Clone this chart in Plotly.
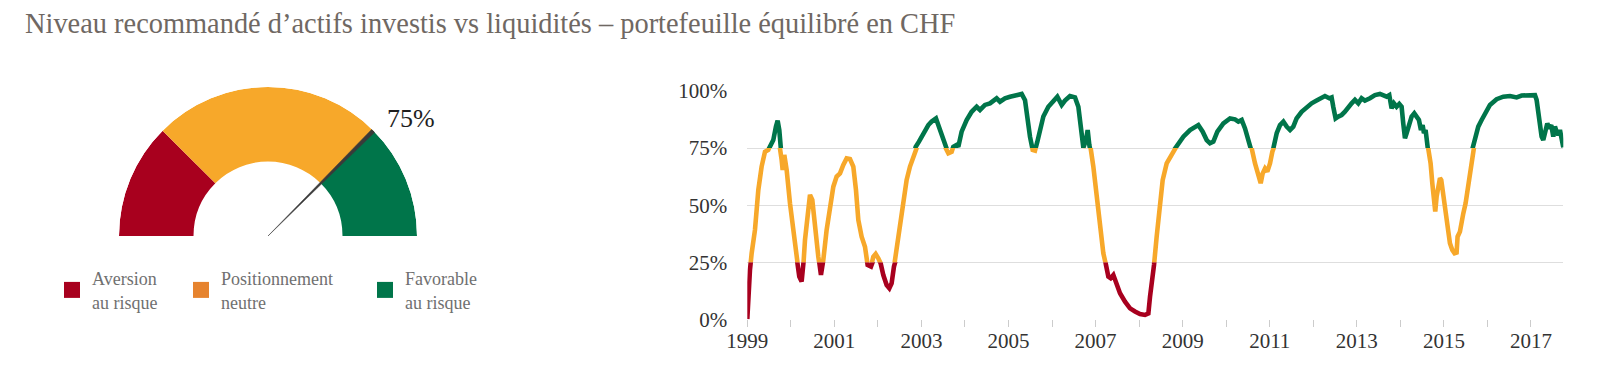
import plotly.graph_objects as go

# ---------------- data ----------------
title_text = "Niveau recommandé d’actifs investis vs liquidités – portefeuille équilibré en CHF"

gauge_bounds = [0, 25, 75, 100]          # % thresholds of the three zones
gauge_colors = ["#a8001e", "#f7a82a", "#00754a"]
gauge_value = 75                          # current recommended level (%)

legend_labels = ["Aversion<br>au risque", "Positionnement<br>neutre", "Favorable<br>au risque"]
legend_colors = ["#a8001e", "#e6832e", "#00754a"]

years = [
    1999.000, 1999.023, 1999.061, 1999.100, 1999.176, 1999.253, 1999.329, 1999.406, 1999.482, 1999.521,
    1999.597, 1999.658, 1999.697, 1999.735, 1999.750, 1999.789, 1999.812, 1999.850, 1999.904, 1999.980,
    2000.057, 2000.133, 2000.194, 2000.248, 2000.286, 2000.325, 2000.386, 2000.440, 2000.493, 2000.554,
    2000.631, 2000.692, 2000.746, 2000.822, 2000.899, 2000.976, 2001.052, 2001.129, 2001.205, 2001.282,
    2001.358, 2001.435, 2001.496, 2001.550, 2001.626, 2001.703, 2001.764, 2001.841, 2001.894, 2001.948,
    2002.009, 2002.063, 2002.124, 2002.201, 2002.262, 2002.315, 2002.369, 2002.430, 2002.507, 2002.583,
    2002.660, 2002.737, 2002.813, 2002.867, 2002.943, 2003.043, 2003.158, 2003.234, 2003.334, 2003.387,
    2003.464, 2003.541, 2003.617, 2003.694, 2003.732, 2003.809, 2003.847, 2003.923, 2004.038, 2004.153,
    2004.268, 2004.345, 2004.459, 2004.574, 2004.727, 2004.804, 2004.919, 2005.034, 2005.225,
    2005.302, 2005.379, 2005.432, 2005.493, 2005.555, 2005.608, 2005.662, 2005.723, 2005.800, 2005.915,
    2006.014, 2006.121, 2006.221, 2006.297, 2006.412, 2006.527, 2006.604, 2006.657, 2006.719, 2006.780,
    2006.818, 2006.856, 2006.887, 2006.948, 2007.009, 2007.063, 2007.117, 2007.178, 2007.239, 2007.293,
    2007.346, 2007.408, 2007.484, 2007.561, 2007.676, 2007.791, 2007.905, 2008.020, 2008.135, 2008.212,
    2008.250, 2008.311, 2008.342, 2008.403, 2008.464, 2008.541, 2008.633, 2008.748, 2008.824, 2008.901,
    2009.016, 2009.169, 2009.284, 2009.360, 2009.460, 2009.552, 2009.628, 2009.705, 2009.797, 2009.935,
    2010.088, 2010.202, 2010.279, 2010.356, 2010.432, 2010.509, 2010.585, 2010.662, 2010.738, 2010.792,
    2010.838, 2010.892, 2010.945, 2011.006, 2011.060, 2011.106, 2011.160, 2011.236, 2011.313, 2011.389,
    2011.466, 2011.541, 2011.617, 2011.732, 2011.847, 2011.962, 2012.077, 2012.191, 2012.268, 2012.368,
    2012.421, 2012.459, 2012.513, 2012.574, 2012.651, 2012.727, 2012.804, 2012.881, 2012.957, 2013.034,
    2013.110, 2013.187, 2013.302, 2013.417, 2013.531, 2013.608, 2013.685, 2013.746, 2013.799, 2013.853,
    2013.914, 2013.975, 2014.029, 2014.067, 2014.106, 2014.144, 2014.198, 2014.259, 2014.320, 2014.374,
    2014.427, 2014.473, 2014.512, 2014.542, 2014.580, 2014.603, 2014.626, 2014.649, 2014.695, 2014.734,
    2014.772, 2014.802, 2014.833, 2014.879, 2014.910, 2014.940, 2014.971, 2015.009, 2015.047, 2015.093,
    2015.139, 2015.193, 2015.246, 2015.292, 2015.315, 2015.369, 2015.407, 2015.446, 2015.499, 2015.545,
    2015.599, 2015.660, 2015.729, 2015.790, 2015.867, 2015.943, 2016.058, 2016.211, 2016.365, 2016.518,
    2016.671, 2016.786, 2016.939, 2017.092, 2017.130, 2017.168, 2017.207, 2017.245, 2017.283, 2017.322,
    2017.375, 2017.421, 2017.467, 2017.513, 2017.551, 2017.590, 2017.628, 2017.666, 2017.704, 2017.743,
]
values = [
    0.0, 11.4, 21.6, 28.9, 39.1, 56.6, 66.9, 73.4, 74.2, 76.0,
    78.5, 84.4, 87.0, 82.9, 74.9, 69.8, 65.4, 72.0, 65.4, 50.8,
    37.7, 27.4, 18.7, 16.5, 23.1, 34.7, 46.4, 54.5, 52.3, 39.1,
    27.4, 19.4, 26.0, 39.1, 49.3, 58.1, 62.5, 63.9, 67.6, 70.5,
    70.2, 66.9, 56.6, 43.5, 36.2, 31.8, 23.8, 23.1, 27.4, 28.6,
    26.7, 24.5, 19.4, 15.0, 13.6, 15.8, 23.1, 30.4, 43.5, 53.7,
    61.0, 66.9, 71.2, 75.5, 77.8, 81.5, 85.1, 86.6, 88.0, 85.1,
    80.0, 75.6, 72.7, 73.4, 75.6, 76.4, 75.6, 82.2, 87.3, 90.9,
    93.1, 91.7, 93.9, 94.6, 96.8, 95.3, 96.8, 97.5, 98.2,
    98.7, 96.0, 87.3, 80.0, 74.2, 73.9, 77.8, 83.6, 88.8, 93.1,
    95.3, 97.5, 93.9, 95.8, 97.8, 97.2, 93.1, 82.9, 75.2, 78.5,
    82.9, 76.4, 74.9, 66.9, 56.6, 46.4, 36.2, 28.9, 23.8, 18.7,
    18.0, 19.4, 15.8, 11.4, 7.7, 4.8, 3.4, 2.3, 1.9, 2.6,
    9.9, 17.2, 23.8, 36.2, 49.3, 61.0, 68.3, 72.7, 74.9, 77.1,
    80.0, 82.9, 84.4, 85.1, 82.2, 78.5, 77.1, 77.8, 82.2, 85.8,
    88.0, 87.6, 86.6, 87.3, 83.6, 79.3, 74.9, 68.3, 62.5, 59.6,
    63.9, 66.1, 64.7, 68.3, 73.4, 76.4, 81.5, 85.1, 86.6, 84.4,
    82.9, 84.4, 88.0, 90.9, 93.1, 94.6, 95.8, 96.8, 97.8, 96.8,
    97.2, 93.1, 88.0, 88.8, 89.5, 90.9, 93.1, 94.6, 96.1, 94.6,
    96.8, 95.8, 96.8, 98.2, 98.7, 98.2, 97.5, 98.2, 92.4, 94.6,
    93.1, 94.3, 93.1, 85.8, 79.3, 81.5, 84.4, 88.8, 90.2, 88.8,
    87.3, 82.9, 85.1, 81.5, 82.9, 79.3, 77.1, 74.9, 68.3, 59.6,
    49.3, 47.2, 53.7, 59.6, 61.8, 61.0, 56.6, 52.3, 46.4, 39.1,
    33.3, 30.4, 28.9, 29.2, 36.2, 38.4, 43.5, 46.4, 50.8, 58.1,
    66.9, 74.9, 80.0, 84.4, 87.3, 90.2, 93.9, 96.4, 97.5, 97.8,
    97.2, 98.0, 98.2, 98.2, 96.1, 90.2, 85.8, 80.0, 78.5, 82.2,
    85.8, 83.6, 85.1, 80.0, 84.4, 82.2, 80.7, 82.9, 79.3, 75.3,
]

y_tickvals = [0, 25, 50, 75, 100]
y_ticktext = ["0%", "25%", "50%", "75%", "100%"]
x_tickvals = list(range(1999, 2018, 2))
x_ticktext = [str(y) for y in x_tickvals]
x_minorvals = list(range(1999, 2018))

# ---------------- layout helpers ----------------
# the page puts the figure 8 px from the window's top-left corner
W, H = 1584, 352
OX, OY = 8, 8
def fx(sx):
    return (sx - OX) / W
def fy(sy):
    return 1 - (sy - OY) / H

SERIF = "Liberation Serif"
plot_x0, plot_x1 = 747.3, 1563.3
plot_y0, plot_y1 = 319.3, 91.0            # window rows of 0% and 100%
dom_lo, dom_hi = fy(plot_y0), fy(plot_y1)

fig = go.Figure()

# ---- gauge (polar subplot) ----
scale = 180.0 / 100.0
g_theta = [(a + b) / 2 * scale for a, b in zip(gauge_bounds[:-1], gauge_bounds[1:])]
g_width = [(b - a) * scale for a, b in zip(gauge_bounds[:-1], gauge_bounds[1:])]
fig.add_trace(go.Barpolar(
    r=[0.5] * len(g_theta), base=[0.5] * len(g_theta), theta=g_theta, width=g_width,
    marker=dict(color=gauge_colors, line=dict(width=0)),
    showlegend=False, hoverinfo="skip", subplot="polar",
))
nt = gauge_value * scale
fig.add_trace(go.Scatterpolar(
    r=[0, 1, 1, 0], theta=[nt, nt - 0.8, nt + 0.8, nt],
    mode="lines", fill="toself", fillcolor="#3a3a3a",
    line=dict(color="#3a3a3a", width=0.5),
    showlegend=False, hoverinfo="skip", subplot="polar",
))

# ---- line chart split into colour bands via stacked y-axes ----
band_axes = {}
for i, (lo, hi) in enumerate(zip(gauge_bounds[:-1], gauge_bounds[1:])):
    ax_name = "yaxis%d" % (i + 2)
    d0 = dom_lo + (dom_hi - dom_lo) * lo / 100.0
    d1 = dom_lo + (dom_hi - dom_lo) * hi / 100.0
    band_axes[ax_name] = dict(domain=[d0, d1], range=[lo, hi], visible=False,
                              anchor="x", fixedrange=True)
    fig.add_trace(go.Scatter(
        x=years, y=values, mode="lines",
        line=dict(color=gauge_colors[i], width=4.6),
        xaxis="x", yaxis="y%d" % (i + 2),
        showlegend=False, hoverinfo="skip",
    ))

# ---- legend entries ----
legend_keys = ["legend", "legend2", "legend3"]
for lab, col, key in zip(legend_labels, legend_colors, legend_keys):
    fig.add_trace(go.Scatter(
        x=[None], y=[None], mode="markers", name=lab,
        marker=dict(symbol="square", size=16, color=col),
        legend=key, showlegend=True, hoverinfo="skip",
    ))

legend_common = dict(
    orientation="v", xanchor="left", yanchor="middle",
    bgcolor="rgba(0,0,0,0)", borderwidth=0,
    font=dict(family=SERIF, size=18, color="#707070"),
    itemclick=False, itemdoubleclick=False,
)
legend_x = [52.0, 181.0, 365.0]
legends = {}
for key, lx in zip(legend_keys, legend_x):
    legends[key] = dict(legend_common, x=fx(lx), y=fy(290))

fig.update_layout(
    width=W, height=H,
    margin=dict(l=0, r=0, t=0, b=0, autoexpand=False),
    paper_bgcolor="white", plot_bgcolor="rgba(0,0,0,0)",
    showlegend=True,
    polar=dict(
        domain=dict(x=[fx(119), fx(417)], y=[fy(236), fy(87)]),
        sector=[0, 180], hole=0, bargap=0, bgcolor="rgba(0,0,0,0)",
        radialaxis=dict(visible=False, range=[0, 1]),
        angularaxis=dict(visible=False, rotation=180, direction="clockwise"),
    ),
    xaxis=dict(
        domain=[fx(plot_x0), fx(plot_x1)], range=[years[0], years[-1]], anchor="y",
        tickmode="array", tickvals=x_tickvals, ticktext=x_ticktext,
        ticks="outside", ticklen=7, tickwidth=1, tickcolor="#cccccc",
        ticklabelstandoff=-5,
        minor=dict(tickmode="array", tickvals=x_minorvals, ticks="outside",
                   ticklen=7, tickwidth=1, tickcolor="#cccccc", showgrid=False),
        showgrid=False, zeroline=False, showline=False, fixedrange=True,
        tickfont=dict(family=SERIF, size=21, color="#333333"),
    ),
    yaxis=dict(
        domain=[dom_lo, dom_hi], range=[0, 100], anchor="x",
        tickmode="array", tickvals=y_tickvals, ticktext=y_ticktext,
        showgrid=True, gridcolor="#dedede", gridwidth=1.3,
        zeroline=False, showline=False, ticks="", ticklabelstandoff=19,
        fixedrange=True,
        tickfont=dict(family=SERIF, size=21, color="#333333"),
    ),
    **band_axes,
    **legends,
    annotations=[
        dict(text=title_text, xref="paper", yref="paper", x=fx(23), y=fy(6),
             xanchor="left", yanchor="top", showarrow=False,
             font=dict(family=SERIF, size=28.4, color="#6f6863")),
        dict(text="%d%%" % gauge_value, xref="paper", yref="paper", x=fx(411), y=fy(118),
             xanchor="center", yanchor="middle", showarrow=False,
             font=dict(family=SERIF, size=26, color="#1e1e1e")),
    ],
)

fig.write_html("out.html")
